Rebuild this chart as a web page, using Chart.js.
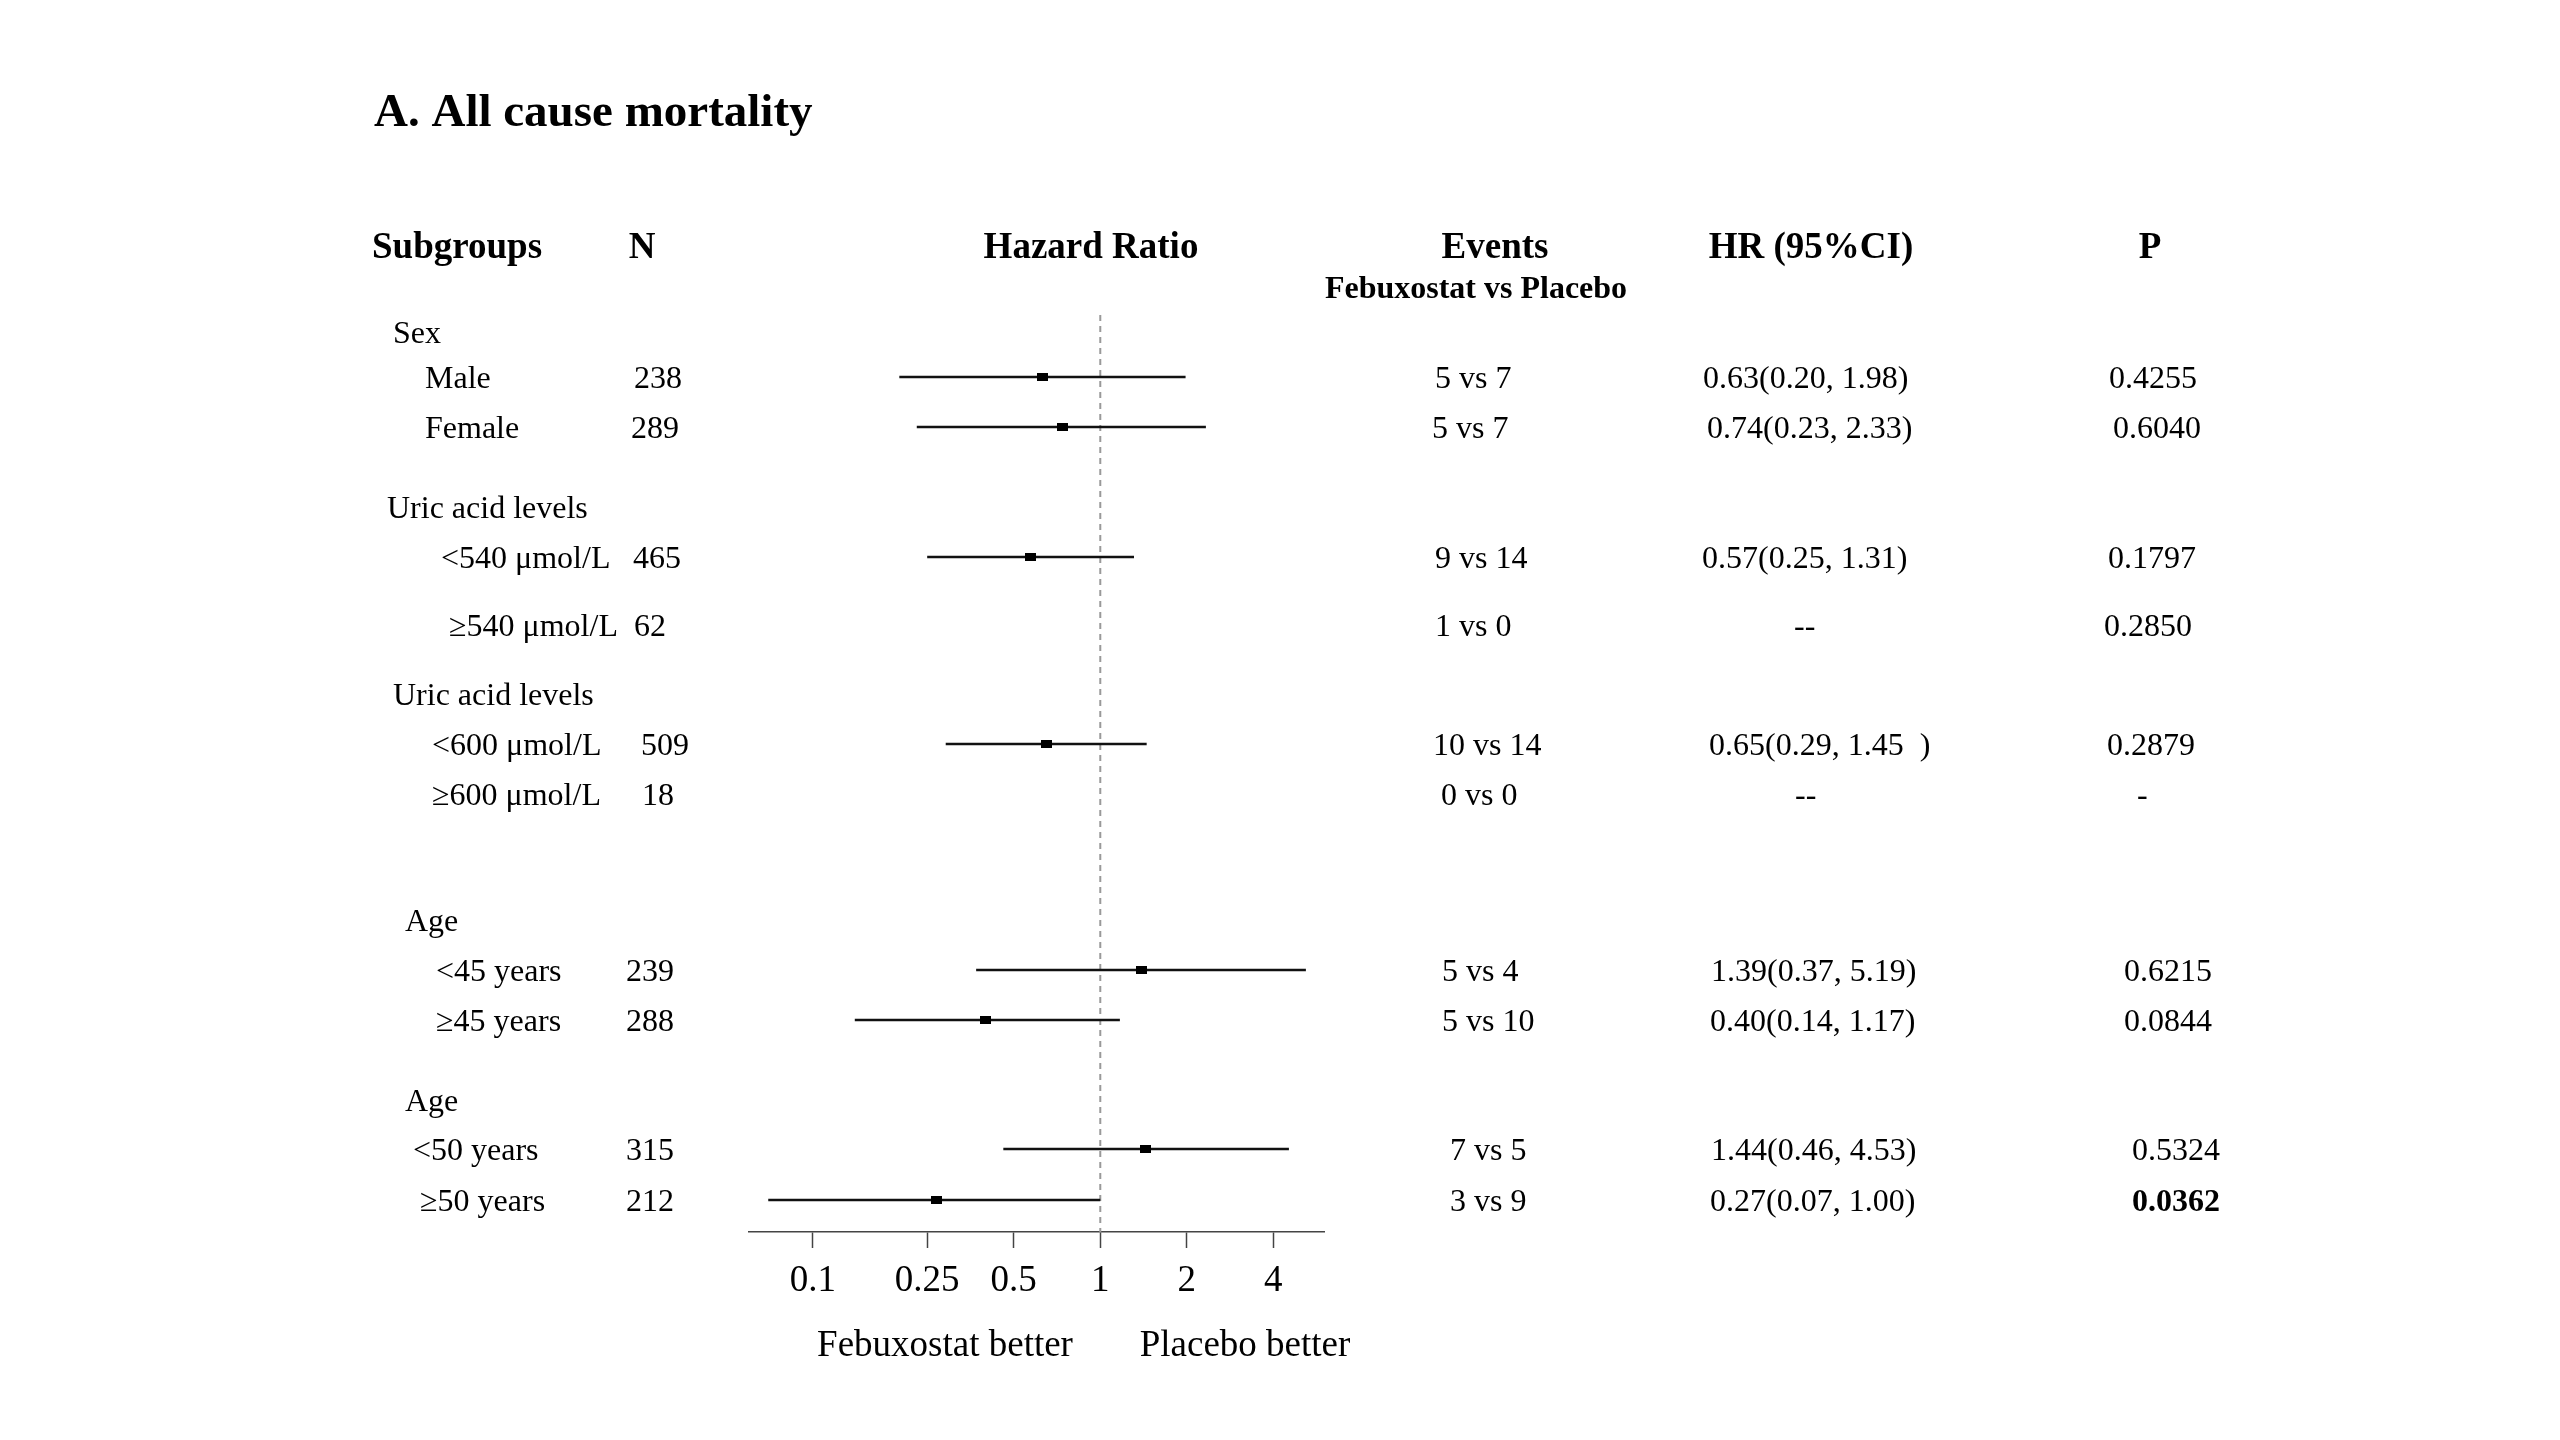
<!DOCTYPE html>
<html>
<head>
    <title>A. All cause mortality - forest plot</title>
    <script src="https://cdn.jsdelivr.net/npm/chart.js"></script>
    <style>
        body {
            margin: 0;
            background: #fff;
        }

        #forestChart {
            display: block;
        }
    </style>
</head>
<body>
    <canvas id="forestChart" width="2560" height="1440"></canvas>
    <script>
        // ---- table data (one entry per row) ----
        const subgroups = ['Sex', 'Male', 'Female', 'Uric acid levels', '<540 μmol/L', '≥540 μmol/L',
            'Uric acid levels', '<600 μmol/L', '≥600 μmol/L', 'Age', '<45 years', '≥45 years',
            'Age', '<50 years', '≥50 years'];
        const counts = ['', '238', '289', '', '465', '62', '', '509', '18', '', '239', '288', '', '315', '212'];
        const events = ['', '5 vs 7', '5 vs 7', '', '9 vs 14', '1 vs 0', '', '10 vs 14', '0 vs 0', '',
            '5 vs 4', '5 vs 10', '', '7 vs 5', '3 vs 9'];
        const hrText = ['', '0.63(0.20, 1.98)', '0.74(0.23, 2.33)', '', '0.57(0.25, 1.31)', '--', '',
            '0.65(0.29, 1.45  )', '--', '', '1.39(0.37, 5.19)', '0.40(0.14, 1.17)', '',
            '1.44(0.46, 4.53)', '0.27(0.07, 1.00)'];
        const pValues = ['', '0.4255', '0.6040', '', '0.1797', '0.2850', '', '0.2879', '-', '',
            '0.6215', '0.0844', '', '0.5324', '0.0362'];
        const boldP = ['0.0362'];

        // hazard ratios and 95% CI
        const hr = [null, 0.63, 0.74, null, 0.57, null, null, 0.65, null, null, 1.39, 0.40, null, 1.44, 0.27];
        const ciLow = [null, 0.20, 0.23, null, 0.25, null, null, 0.29, null, null, 0.37, 0.14, null, 0.46, 0.07];
        const ciHigh = [null, 1.98, 2.33, null, 1.31, null, null, 1.45, null, null, 5.19, 1.17, null, 4.53, 1.00];

        const xTicks = [0.1, 0.25, 0.5, 1, 2, 4];

        // ---- layout (row slots on the y scale, text columns) ----
        const rowSlot = [0, 0.9, 1.9, 3.5, 4.5, 5.86, 7.24, 8.24, 9.24, 11.76, 12.76, 13.76, 15.36, 16.34, 17.36];
        const labelX = [393, 425, 425, 387, 441, 449, 393, 432, 432, 405, 436, 436, 405, 413, 420];
        const countX = [0, 634, 631, 0, 633, 634, 0, 641, 642, 0, 626, 626, 0, 626, 626];
        const eventX = [0, 1435, 1432, 0, 1435, 1435, 0, 1433, 1441, 0, 1442, 1442, 0, 1450, 1450];
        const hrX = [0, 1703, 1707, 0, 1702, 1794, 0, 1709, 1795, 0, 1711, 1710, 0, 1711, 1710];
        const pX = [0, 2109, 2113, 0, 2108, 2104, 0, 2107, 2137, 0, 2124, 2124, 0, 2132, 2132];
        const textShift = 2.5; // text sits a little below the row centre

        const serif = '"Liberation Serif", "Times New Roman", serif';

        // small filled box used as the HR marker
        const box = document.createElement('canvas');
        box.width = 11;
        box.height = 8;
        const bctx = box.getContext('2d');
        bctx.fillStyle = '#000';
        bctx.fillRect(0, 0, 11, 8);

        const ciDatasets = [];
        const pointData = [];
        for (let i = 0; i < subgroups.length; i++) {
            if (hr[i] === null) continue;
            ciDatasets.push({
                type: 'scatter',
                showLine: true,
                data: [{ x: ciLow[i], y: rowSlot[i] }, { x: ciHigh[i], y: rowSlot[i] }],
                borderColor: '#111',
                borderWidth: 2.5,
                pointRadius: 0,
                order: 2,
            });
            pointData.push({ x: hr[i], y: rowSlot[i] });
        }

        const refLine = {
            id: 'refLine',
            beforeDatasetsDraw(chart) {
                const { ctx, chartArea, scales } = chart;
                const x = scales.x.getPixelForValue(1);
                ctx.save();
                ctx.strokeStyle = '#999';
                ctx.lineWidth = 2;
                ctx.setLineDash([6, 5]);
                ctx.beginPath();
                ctx.moveTo(x, chartArea.top);
                ctx.lineTo(x, chartArea.bottom);
                ctx.stroke();
                ctx.restore();
            }
        };

        const tableText = {
            id: 'tableText',
            afterDraw(chart) {
                const { ctx, scales } = chart;
                ctx.save();
                ctx.fillStyle = '#000';
                ctx.textBaseline = 'middle';

                // title
                ctx.textAlign = 'left';
                ctx.font = 'bold 47px ' + serif;
                ctx.fillText('A. All cause mortality', 374, 114);

                // column headers
                ctx.font = 'bold 37px ' + serif;
                ctx.fillText('Subgroups', 372, 248);
                ctx.textAlign = 'center';
                ctx.fillText('N', 642, 248);
                ctx.fillText('Hazard Ratio', 1091, 248);
                ctx.fillText('Events', 1495, 248);
                ctx.fillText('HR (95%CI)', 1811, 248);
                ctx.fillText('P', 2150, 248);
                ctx.font = 'bold 32px ' + serif;
                ctx.fillText('Febuxostat vs Placebo', 1476, 290);

                // rows
                ctx.textAlign = 'left';
                for (let i = 0; i < subgroups.length; i++) {
                    const y = scales.y.getPixelForValue(rowSlot[i]) + textShift;
                    ctx.font = '32px ' + serif;
                    ctx.fillText(subgroups[i], labelX[i], y);
                    if (counts[i]) ctx.fillText(counts[i], countX[i], y);
                    if (events[i]) ctx.fillText(events[i], eventX[i], y);
                    if (hrText[i]) ctx.fillText(hrText[i], hrX[i], y);
                    if (pValues[i]) {
                        ctx.font = (boldP.includes(pValues[i]) ? 'bold ' : '') + '32px ' + serif;
                        ctx.fillText(pValues[i], pX[i], y);
                    }
                }

                // direction labels under the axis
                ctx.textAlign = 'center';
                ctx.font = '37px ' + serif;
                ctx.fillText('Febuxostat better', 945, 1346);
                ctx.fillText('Placebo better', 1245, 1346);
                ctx.restore();
            }
        };

        const ctx = document.getElementById('forestChart').getContext('2d');
        const chart = new Chart(ctx, {
            type: 'scatter',
            data: {
                datasets: [
                    ...ciDatasets,
                    {
                        type: 'scatter',
                        data: pointData,
                        pointStyle: box,
                        pointRadius: 5,
                        order: 1,
                    },
                ],
            },
            options: {
                responsive: false,
                animation: false,
                layout: {
                    padding: { left: 749, right: 1236, top: 315, bottom: 128 },
                },
                plugins: {
                    legend: { display: false },
                    tooltip: { enabled: false },
                },
                scales: {
                    x: {
                        type: 'logarithmic',
                        position: 'bottom',
                        min: 0.06,
                        max: 6,
                        afterBuildTicks: (scale) => {
                            scale.ticks = xTicks.map(v => ({ value: v }));
                        },
                        afterFit: (scale) => {
                            scale.height = 80;
                        },
                        ticks: {
                            callback: (value) => String(value),
                            autoSkip: false,
                            maxRotation: 0,
                            padding: 11,
                            color: '#000',
                            font: { family: serif, size: 37 },
                        },
                        grid: {
                            drawOnChartArea: false,
                            drawTicks: true,
                            tickLength: 16,
                            tickWidth: 1.5,
                            tickColor: '#444',
                        },
                        border: { display: true, color: '#444', width: 1.5 },
                    },
                    y: {
                        type: 'linear',
                        display: false,
                        reverse: true,
                        min: -0.34,
                        max: 18.0,
                    },
                },
            },
            plugins: [refLine, tableText],
        });
    </script>
</body>
</html>
